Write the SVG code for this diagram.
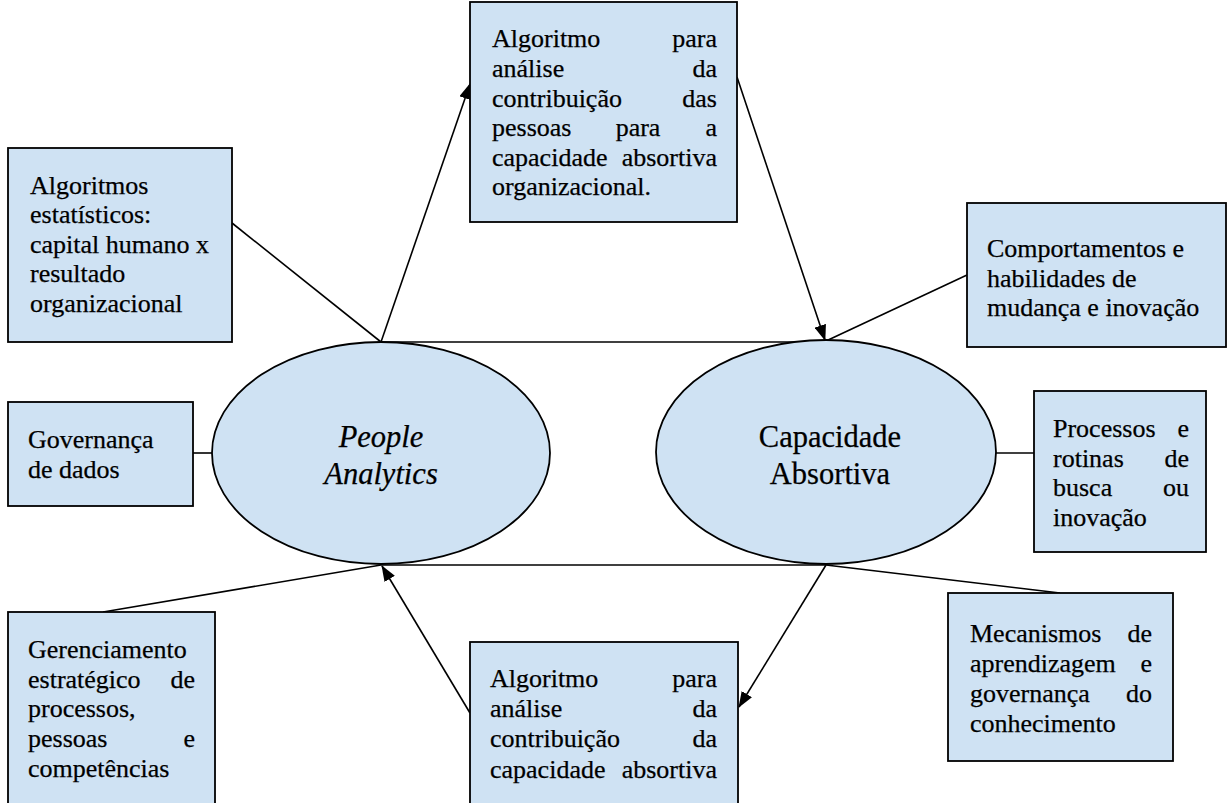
<svg xmlns="http://www.w3.org/2000/svg" width="1227" height="803" viewBox="0 0 1227 803">
<defs>
<style>
.box{fill:#CFE2F3;stroke:#000;stroke-width:1.8}
.ell{fill:#CFE2F3;stroke:#000;stroke-width:1.8}
.t{font-family:"Liberation Serif","Times New Roman",serif;font-size:26px;fill:#000;stroke:#000;stroke-width:0.25}
.e{text-anchor:end}
.m{text-anchor:middle}
.big{font-family:"Liberation Serif","Times New Roman",serif;font-size:30.5px;fill:#000;stroke:#000;stroke-width:0.25;text-anchor:middle}
.ln{stroke:#000;stroke-width:1.6;fill:none}
</style>
<marker id="arr" markerWidth="16" markerHeight="12" refX="15" refY="6" orient="auto" markerUnits="userSpaceOnUse">
<path d="M0,0 L16,6 L0,12 Z" fill="#000"/>
</marker>
</defs>
<rect width="1227" height="803" fill="#fff"/>

<g id="connectors">
<line class="ln" x1="232" y1="223" x2="381" y2="342"/>
<line class="ln" x1="381" y1="342" x2="826" y2="342"/>
<line class="ln" x1="967" y1="275" x2="826" y2="341"/>
<line class="ln" x1="193" y1="453" x2="212" y2="453"/>
<line class="ln" x1="996" y1="453" x2="1034" y2="453"/>
<line class="ln" x1="103" y1="612" x2="381" y2="565"/>
<line class="ln" x1="381" y1="565" x2="826" y2="565"/>
<line class="ln" x1="826" y1="565" x2="1060" y2="593"/>
<line class="ln" x1="381" y1="342" x2="470" y2="84" marker-end="url(#arr)"/>
<line class="ln" x1="737" y1="77" x2="825" y2="340" marker-end="url(#arr)"/>
<line class="ln" x1="470" y1="713" x2="382" y2="566" marker-end="url(#arr)"/>
<line class="ln" x1="826" y1="565" x2="739" y2="707" marker-end="url(#arr)"/>
</g>

<g id="people-analytics">
<ellipse class="ell" cx="381" cy="453" rx="169" ry="111"/>
<text class="big" font-style="italic" x="381" y="447">People</text>
<text class="big" font-style="italic" x="381" y="484">Analytics</text>
</g>

<g id="capacidade-absortiva">
<ellipse class="ell" cx="826" cy="452" rx="170" ry="112"/>
<text class="big" x="830" y="447">Capacidade</text>
<text class="big" x="830" y="484">Absortiva</text>
</g>

<g id="box-top">
<rect class="box" x="470" y="2" width="267" height="220"/>
<text class="t" x="492" y="47">Algoritmo</text><text class="t e" x="717" y="47">para</text>
<text class="t" x="492" y="77">análise</text><text class="t e" x="717" y="77">da</text>
<text class="t" x="492" y="107">contribuição</text><text class="t e" x="717" y="107">das</text>
<text class="t" x="492" y="136">pessoas</text><text class="t m" x="638" y="136">para</text><text class="t e" x="717" y="136">a</text>
<text class="t" x="492" y="166">capacidade</text><text class="t e" x="717" y="166">absortiva</text>
<text class="t" x="492" y="195">organizacional.</text>
</g>

<g id="box-estatisticos">
<rect class="box" x="8" y="148" width="224" height="194"/>
<text class="t" x="30" y="194">Algoritmos</text>
<text class="t" x="30" y="223">estatísticos:</text>
<text class="t" x="30" y="253">capital humano x</text>
<text class="t" x="30" y="282">resultado</text>
<text class="t" x="30" y="312">organizacional</text>
</g>

<g id="box-comportamentos">
<rect class="box" x="967" y="203" width="259" height="144"/>
<text class="t" x="987" y="257">Comportamentos e</text>
<text class="t" x="987" y="287">habilidades de</text>
<text class="t" x="987" y="316">mudança e inovação</text>
</g>

<g id="box-governanca">
<rect class="box" x="8" y="402" width="185" height="104"/>
<text class="t" x="28" y="448">Governança</text>
<text class="t" x="28" y="478">de dados</text>
</g>

<g id="box-processos">
<rect class="box" x="1034" y="391" width="172" height="161"/>
<text class="t" x="1053" y="437">Processos</text><text class="t e" x="1189" y="437">e</text>
<text class="t" x="1053" y="467">rotinas</text><text class="t e" x="1189" y="467">de</text>
<text class="t" x="1053" y="496">busca</text><text class="t e" x="1189" y="496">ou</text>
<text class="t" x="1053" y="526">inovação</text>
</g>

<g id="box-gerenciamento">
<rect class="box" x="8" y="612" width="207" height="200"/>
<text class="t" x="28" y="658">Gerenciamento</text>
<text class="t" x="28" y="688">estratégico</text><text class="t e" x="195" y="688">de</text>
<text class="t" x="28" y="717">processos,</text>
<text class="t" x="28" y="747">pessoas</text><text class="t e" x="195" y="747">e</text>
<text class="t" x="28" y="777">competências</text>
</g>

<g id="box-bottom">
<rect class="box" x="470" y="642" width="268" height="170"/>
<text class="t" x="490" y="687">Algoritmo</text><text class="t e" x="717" y="687">para</text>
<text class="t" x="490" y="717">análise</text><text class="t e" x="717" y="717">da</text>
<text class="t" x="490" y="747">contribuição</text><text class="t e" x="717" y="747">da</text>
<text class="t" x="490" y="778">capacidade</text><text class="t e" x="717" y="778">absortiva</text>
</g>

<g id="box-mecanismos">
<rect class="box" x="948" y="593" width="225" height="168"/>
<text class="t" x="970" y="642">Mecanismos</text><text class="t e" x="1152" y="642">de</text>
<text class="t" x="970" y="672">aprendizagem</text><text class="t e" x="1152" y="672">e</text>
<text class="t" x="970" y="702">governança</text><text class="t e" x="1152" y="702">do</text>
<text class="t" x="970" y="732">conhecimento</text>
</g>
</svg>
